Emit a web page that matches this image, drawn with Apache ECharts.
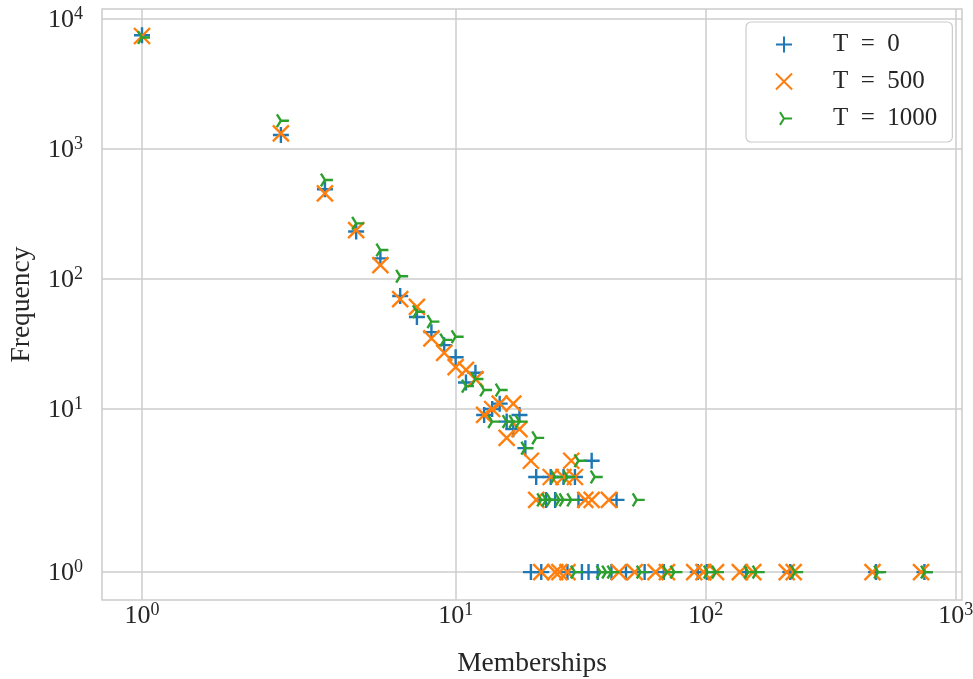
<!DOCTYPE html>
<html>
<head>
<meta charset="utf-8">
<script src="https://cdn.jsdelivr.net/npm/echarts@6/dist/echarts.min.js"></script>
<style>
  html, body { margin: 0; padding: 0; background: #ffffff; }
  #chart { width: 973px; height: 679px; }
</style>
</head>
<body>
<div id="chart"></div>
<script>
// Membership counts and how often each count occurs, per snapshot
const seriesNames = ['T = 0', 'T = 500', 'T = 1000'];

const t0Memberships = [1, 2, 3, 4, 5, 6, 7, 8, 9, 10, 11, 12, 13, 14, 15, 16, 17, 18, 19, 20, 21, 22, 23, 24, 25, 27, 28, 30, 31, 32, 34, 35, 37, 42, 44, 48, 57, 68, 93, 101, 145, 218, 480, 750];
const t0Frequency   = [7500, 1280, 490, 232, 144, 74, 51, 39, 31, 25, 16, 19, 9, 10, 11, 8, 7, 9, 5, 1, 3, 1, 2, 3, 2, 3, 1, 3, 2, 1, 1, 4, 1, 1, 2, 1, 1, 1, 1, 1, 1, 1, 1, 1];

const t500Memberships = [1, 2, 3, 4, 5, 6, 7, 8, 9, 10, 11, 12, 13, 14, 15, 16, 17, 18, 20, 21, 22, 24, 25, 26, 27, 28, 29, 30, 33, 35, 41, 45, 52, 63, 70, 90, 98, 110, 137, 155, 211, 225, 465, 727];
const t500Frequency   = [7400, 1320, 456, 238, 128, 70, 61, 35, 27, 21, 20, 17, 9, 10, 11, 6, 11, 7, 4, 2, 1, 3, 1, 1, 3, 1, 4, 3, 2, 2, 2, 1, 1, 1, 1, 1, 1, 1, 1, 1, 1, 1, 1, 1];

const t1000Memberships = [1, 2, 3, 4, 5, 6, 7, 8, 9, 10, 11, 12, 13, 14, 15, 16, 17, 18, 19, 21, 22, 23, 24, 25, 26, 27, 28, 29, 30, 31, 36, 38, 40, 42, 53, 55, 70, 75, 102, 110, 148, 160, 228, 490, 754];
const t1000Frequency   = [7200, 1650, 578, 268, 167, 105, 56, 47, 34, 36, 15, 17, 14, 8, 14, 8, 8, 8, 5, 6, 2, 2, 2, 3, 2, 2, 3, 2, 1, 4, 3, 1, 1, 1, 2, 1, 1, 1, 1, 1, 1, 1, 1, 1, 1];

const xTickValues = [1, 10, 100, 1000];
const yTickValues = [1, 10, 100, 1000, 10000];
const xLimits = [0.712, 1060];
const yLimits = [0.6137, 11940];

// Symmetric log scale: linear below the threshold, base-10 log above it
const LINTHRESH = 2;
const LINSCALE_ADJ = 1 / (1 - 1 / 10);
function symlog(v) {
  const a = Math.abs(v);
  if (a <= LINTHRESH) return v * LINSCALE_ADJ;
  return Math.sign(v) * LINTHRESH * (LINSCALE_ADJ + Math.log10(a / LINTHRESH));
}
function symlogInverse(t) {
  const a = Math.abs(t);
  if (a <= LINTHRESH * LINSCALE_ADJ) return t / LINSCALE_ADJ;
  return Math.sign(t) * LINTHRESH * Math.pow(10, a / LINTHRESH - LINSCALE_ADJ);
}

const FONT = 'Liberation Serif';
const TEXT_COLOR = '#262626';
const GRID_COLOR = '#cccccc';
const COLORS = ['#1f77b4', '#ff7f0e', '#2ca02c'];

// stroked marker outlines: plus, x and a right-pointing tri
const MARKERS = [
  'path://M-1,-1 M1,1 M-1,0 L1,0 M0,-1 L0,1',
  'path://M-1,-1 L1,1 M-1,1 L1,-1',
  'path://M-1,-1 M1,1 M0,0 L1,0 M0,0 L-0.5,-0.8 M0,0 L-0.5,0.8'
];

const memberships = [t0Memberships, t500Memberships, t1000Memberships];
const frequencies = [t0Frequency, t500Frequency, t1000Frequency];

function powerLabel(v) {
  const exp = Math.round(Math.log10(symlogInverse(v)));
  return '{b|10}{s|' + exp + '}';
}
const tickRich = {
  b: { fontFamily: FONT, fontSize: 26, color: TEXT_COLOR, lineHeight: 28, verticalAlign: 'bottom' },
  s: { fontFamily: FONT, fontSize: 18, color: TEXT_COLOR, lineHeight: 18, verticalAlign: 'top' }
};

function axisCommon(ticks, limits, name) {
  const custom = ticks.map(symlog);
  return {
    type: 'value',
    min: symlog(limits[0]),
    max: symlog(limits[1]),
    name: name,
    nameLocation: 'middle',
    nameTextStyle: { fontFamily: FONT, fontSize: 27.5, color: TEXT_COLOR },
    axisLine: { show: false },
    axisTick: { show: false, customValues: custom },
    axisLabel: { customValues: custom, formatter: powerLabel, rich: tickRich, margin: 1 },
    splitLine: { show: true, lineStyle: { color: GRID_COLOR, width: 1.5 } }
  };
}

const chart = echarts.init(document.getElementById('chart'), null, { renderer: 'canvas' });

const xAxis = axisCommon(xTickValues, xLimits, 'Memberships');
xAxis.nameGap = 50;
const yAxis = axisCommon(yTickValues, yLimits, 'Frequency');
yAxis.nameGap = 66;
yAxis.axisLabel.margin = 19;

chart.setOption({
  animation: false,
  backgroundColor: '#ffffff',
  grid: {
    left: 102, right: 11, top: 9, bottom: 79,
    containLabel: false, outerBoundsMode: 'none',
    show: true, borderColor: GRID_COLOR, borderWidth: 1.5, backgroundColor: 'transparent'
  },
  xAxis: xAxis,
  yAxis: yAxis,
  legend: {
    orient: 'vertical',
    left: 746, top: 22,
    padding: [10, 15, 11, 29],
    itemWidth: 40, itemHeight: 16, itemGap: 12,
    backgroundColor: '#ffffff',
    borderColor: GRID_COLOR, borderWidth: 1.2, borderRadius: 5,
    selectedMode: false,
    formatter: name => name.replace(/ /g, '\u2002'),
    textStyle: { fontFamily: FONT, fontSize: 25, color: TEXT_COLOR, padding: [0, 0, 0, 24] },
    data: seriesNames
  },
  series: seriesNames.map((name, k) => ({
    name: name,
    type: 'scatter',
    data: memberships[k].map((m, i) => [symlog(m), symlog(frequencies[k][i])]),
    symbol: MARKERS[k],
    symbolSize: 16,
    symbolKeepAspect: true,
    itemStyle: { color: COLORS[k], borderColor: COLORS[k], borderWidth: 2.4, opacity: 1 },
    emphasis: { disabled: true },
    silent: true
  }))
});
</script>
</body>
</html>
